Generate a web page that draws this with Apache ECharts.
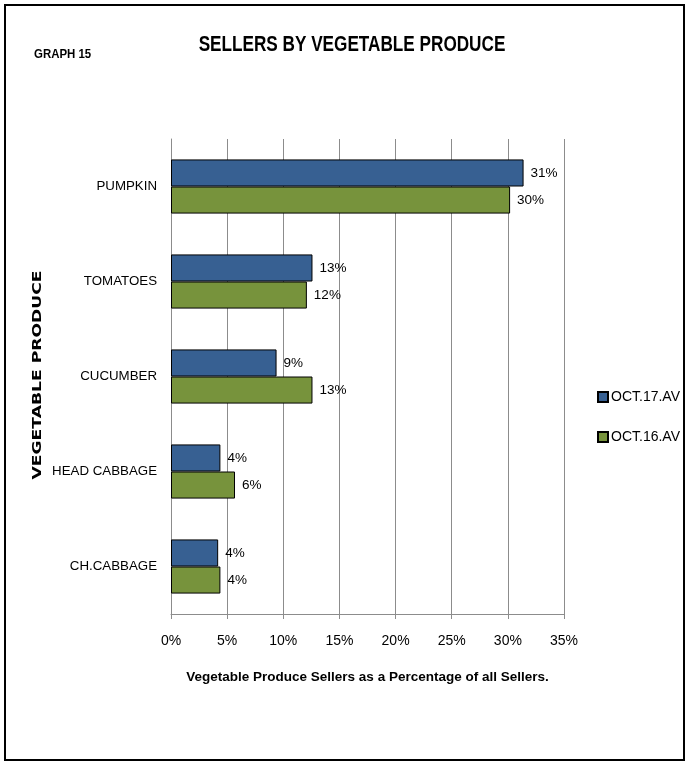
<!DOCTYPE html>
<html>
<head>
<meta charset="utf-8">
<script src="https://cdn.jsdelivr.net/npm/echarts@6/dist/echarts.min.js"></script>
<style>
html,body{margin:0;padding:0;background:#fff;}
#chart{width:689px;height:765px;}
</style>
</head>
<body>
<div id="chart"></div>
<script>
const categories = ['PUMPKIN', 'TOMATOES', 'CUCUMBER', 'HEAD CABBAGE', 'CH.CABBAGE'];
const seriesNames = ['OCT.17.AV', 'OCT.16.AV'];
const oct17 = [31.4, 12.6, 9.4, 4.4, 4.2];
const oct16 = [30.2, 12.1, 12.6, 5.7, 4.4];
const xTicks = [0, 5, 10, 15, 20, 25, 30, 35];
const titleText = 'SELLERS BY VEGETABLE PRODUCE';
const graphLabel = 'GRAPH 15';
const yName = 'VEGETABLE PRODUCE';
const xName = 'Vegetable Produce Sellers as a Percentage of all Sellers.';

const FONT = '"Liberation Sans", Arial, sans-serif';
const chart = echarts.init(document.getElementById('chart'));
const lbl = {
  show: true, position: 'right', distance: 7,
  fontFamily: FONT, fontSize: 13.5, color: '#000',
  formatter: p => Math.round(p.value) + '%'
};
chart.setOption({
  animation: false,
  backgroundColor: '#fff',
  graphic: [
    { type: 'rect', shape: { x: 5, y: 5, width: 679, height: 755 },
      style: { fill: 'none', stroke: '#000', lineWidth: 2 }, silent: true },
    { type: 'text', x: 34, y: 54, scaleX: 0.88,
      style: { text: graphLabel, font: 'bold 13px ' + FONT, fill: '#000', textAlign: 'left', textVerticalAlign: 'middle' } },
    { type: 'text', x: 352, y: 45, scaleX: 0.78,
      style: { text: titleText, font: 'bold 22px ' + FONT, fill: '#000', textAlign: 'center', textVerticalAlign: 'middle' } },
    { type: 'text', x: 38, y: 375, rotation: Math.PI / 2, scaleX: 1.32,
      style: { text: yName, font: 'bold 13px "DejaVu Sans", Verdana, sans-serif', fill: '#000', textAlign: 'center', textVerticalAlign: 'middle' } }
  ],
  legend: {
    orient: 'vertical', left: 592, top: 385,
    itemWidth: 10, itemHeight: 10, itemGap: 26,
    icon: 'rect',
    textStyle: { fontFamily: FONT, fontSize: 14, color: '#000', padding: [0, 0, 0, -2] },
    data: seriesNames
  },
  grid: { left: 171, right: 125, top: 139, bottom: 151, containLabel: false },
  xAxis: {
    type: 'value', min: xTicks[0], max: xTicks[xTicks.length - 1], interval: 5,
    name: xName,
    nameLocation: 'middle', nameGap: 56,
    nameTextStyle: { fontFamily: FONT, fontWeight: 'bold', fontSize: 13.5, color: '#000' },
    axisLine: { show: true, lineStyle: { color: '#8c8c8c', width: 1 } },
    axisTick: { show: true, length: 5, lineStyle: { color: '#8c8c8c' } },
    axisLabel: { fontFamily: FONT, fontSize: 14, color: '#000', margin: 20, formatter: '{value}%' },
    splitLine: { show: true, lineStyle: { color: '#8c8c8c', width: 1 } }
  },
  yAxis: {
    type: 'category', data: categories, inverse: true,
    axisLine: { show: true, lineStyle: { color: '#8c8c8c', width: 1 } },
    axisTick: { show: false },
    axisLabel: { fontFamily: FONT, fontSize: 13.3, color: '#000', margin: 14 },
    splitLine: { show: false }
  },
  series: [
    { name: seriesNames[0], type: 'bar', data: oct17, barGap: '0%', barCategoryGap: '43%',
      itemStyle: { color: '#376092', borderColor: '#000', borderWidth: 1 }, label: lbl },
    { name: seriesNames[1], type: 'bar', data: oct16, barGap: '0%', barCategoryGap: '43%',
      itemStyle: { color: '#77933C', borderColor: '#000', borderWidth: 1 }, label: lbl }
  ]
});
</script>
</body>
</html>
